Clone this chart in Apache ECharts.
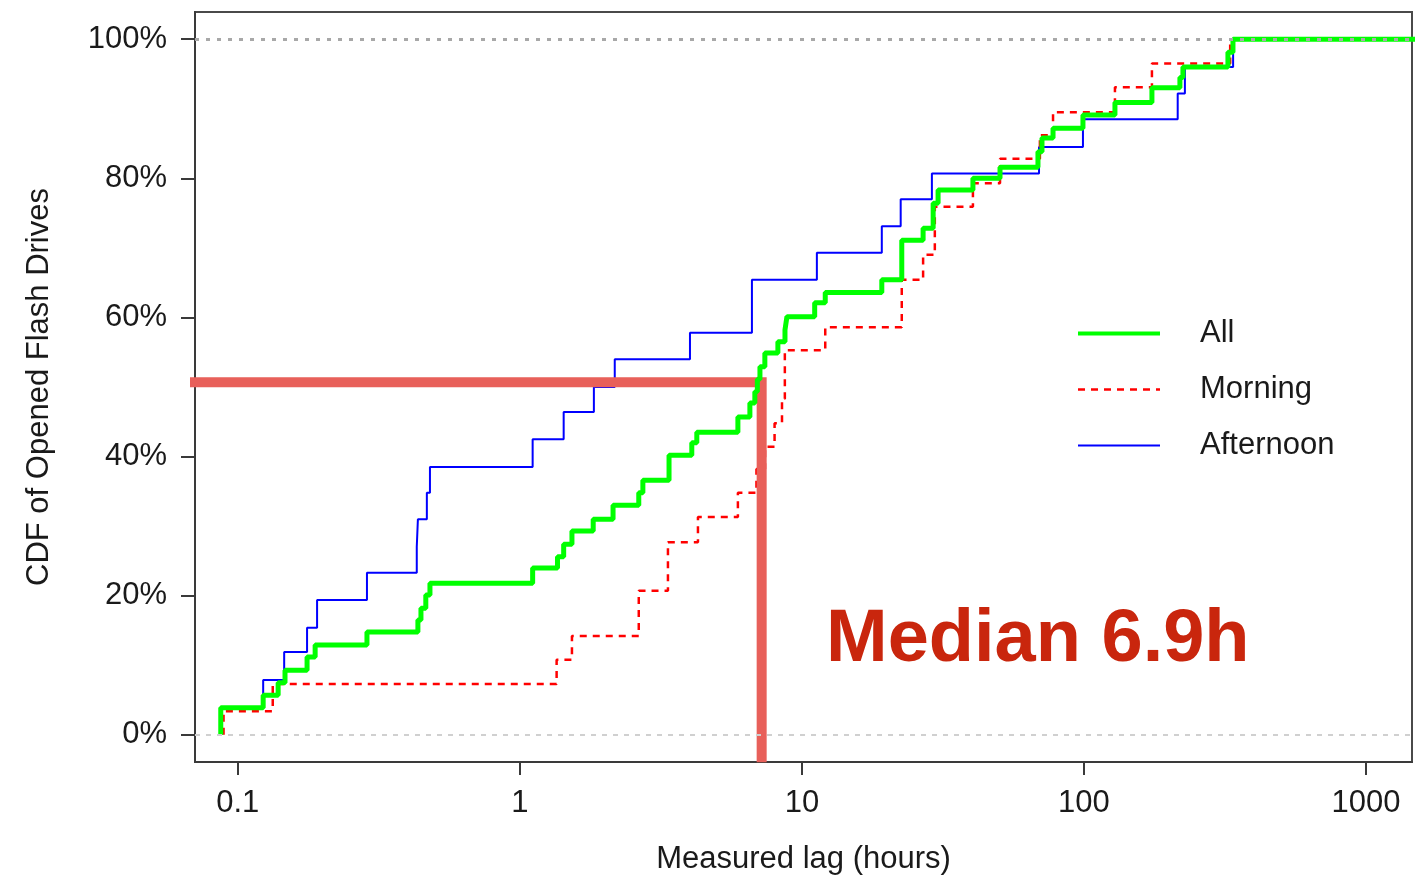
<!DOCTYPE html>
<html>
<head>
<meta charset="utf-8">
<script src="https://cdn.jsdelivr.net/npm/echarts@6/dist/echarts.min.js"></script>
<style>
html, body { margin: 0; padding: 0; background: #fff; }
#cdf { width: 1422px; height: 875px; }
</style>
</head>
<body>
<div id="cdf"></div>
<script>
// [lag in hours, CDF in %] at each step
var allSteps = [
  [0.087, 0], [0.087, 3.9], [0.123, 5.7], [0.139, 7.5], [0.147, 9.3], [0.176, 11.2],
  [0.188, 12.9], [0.287, 14.8], [0.435, 16.5], [0.446, 18.2], [0.464, 20.1], [0.48, 21.8],
  [1.11, 24.0], [1.36, 25.6], [1.43, 27.4], [1.53, 29.3], [1.82, 31.0], [2.14, 33.0],
  [2.64, 34.8], [2.73, 36.6], [3.38, 40.2], [4.07, 42.0], [4.24, 43.5], [5.93, 45.7],
  [6.54, 47.7], [6.81, 49.3], [6.95, 51.1], [7.1, 52.9], [7.39, 54.9], [8.22, 56.5],
  [8.71, 58.2], [8.85, 60.1], [11.1, 62.1], [12.1, 63.6], [19.2, 65.4], [22.6, 71.1],
  [26.9, 72.8], [29.2, 76.4], [30.4, 78.3], [40.4, 80.0], [50.4, 81.6], [68.7, 83.8],
  [71.0, 85.8], [77.7, 87.2], [99.2, 89.1], [128.8, 90.9], [174.2, 93.0], [218.9, 94.5],
  [224.4, 96.0], [324, 98.1], [337.6, 100], [1500, 100]
];
var morningSteps = [
  [0.089, 0], [0.089, 3.4], [0.133, 7.3], [1.35, 10.8], [1.53, 14.2], [2.64, 20.7],
  [3.35, 27.7], [4.28, 31.3], [5.93, 34.8], [6.9, 38.2], [7.4, 41.4], [8.0, 44.8],
  [8.5, 48.3], [8.7, 55.3], [12.1, 58.6], [22.6, 65.4], [26.9, 69.0], [29.6, 75.9],
  [40.4, 79.3], [50.4, 82.8], [69.8, 86.2], [77.7, 89.5], [128.8, 93.1], [174.2, 96.5],
  [330, 100], [1500, 100]
];
var afternoonSteps = [
  [0.087, 0], [0.087, 3.9], [0.123, 7.9], [0.146, 11.9], [0.176, 15.4], [0.191, 19.4],
  [0.287, 23.3], [0.431, 27.0], [0.435, 31.0], [0.468, 34.8], [0.48, 38.5], [1.11, 42.5],
  [1.43, 46.4], [1.83, 50.0], [2.17, 54.0], [4.01, 57.8], [6.65, 65.4], [11.3, 69.3],
  [19.2, 73.1], [22.4, 77.0], [28.9, 80.7], [69.3, 84.5], [99.2, 88.5], [215, 92.2],
  [228, 96.0], [338, 100], [1500, 100]
];

var xTicks = [0.1, 1, 10, 100, 1000];
var yTicks = [0, 20, 40, 60, 80, 100];

// hand-drawn median marker: from left of the axis, across to the median lag, down to the bottom
var medianMark = [[0.0622, 50.7], [7.2, 50.7], [7.2, -3.2]];

var font = "'Liberation Sans', Arial, sans-serif";
var chart = echarts.init(document.getElementById("cdf"));

var option = {
  animation: false,
  backgroundColor: "#fff",
  textStyle: { fontFamily: font },
  grid: {
    left: 195, right: 10, top: 12, bottom: 113,
    outerBoundsMode: "none", containLabel: false,
    show: true, borderColor: "#4a4a4a", borderWidth: 2
  },
  legend: {
    left: 1076, top: 318, orient: "vertical", padding: 0,
    itemWidth: 82, itemHeight: 14, itemGap: 25,
    lineStyle: { width: "inherit" },
    itemStyle: { opacity: 0 },
    textStyle: { fontSize: 31, color: "#1a1a1a", padding: [0, 0, 0, 35], fontFamily: font },
    data: [
      { name: "All", lineStyle: { width: 4 } },
      { name: "Morning" },
      { name: "Afternoon" }
    ]
  },
  xAxis: {
    type: "log", logBase: 10, min: 0.0705, max: 1456,
    name: "Measured lag (hours)", nameLocation: "middle", nameGap: 82,
    nameTextStyle: { fontSize: 31, color: "#1a1a1a", fontFamily: font },
    axisLine: { show: true, onZero: false, lineStyle: { color: "#3a3a3a", width: 2 } },
    axisTick: { show: true, customValues: xTicks, length: 13, lineStyle: { color: "#3a3a3a", width: 2 } },
    axisLabel: {
      customValues: xTicks, margin: 26, fontSize: 31, color: "#1a1a1a",
      formatter: function (v) { return String(v); }
    },
    splitLine: { show: false },
    minorTick: { show: false }
  },
  yAxis: {
    type: "value", min: -3.9, max: 103.9,
    name: "CDF of Opened Flash Drives", nameLocation: "middle", nameGap: 140,
    nameTextStyle: { fontSize: 31, color: "#1a1a1a", fontFamily: font },
    axisLine: { show: true, lineStyle: { color: "#3a3a3a", width: 2 } },
    axisTick: { show: true, customValues: yTicks, length: 14, lineStyle: { color: "#3a3a3a", width: 2 } },
    axisLabel: {
      customValues: yTicks, margin: 28, fontSize: 31, color: "#1a1a1a",
      formatter: "{value}%"
    },
    splitLine: { show: false }
  },
  graphic: [
    {
      type: "text", left: 826, top: 604, z: 100,
      style: {
        text: "Median 6.9h", fill: "#c9260d",
        font: "bold 74px " + font
      }
    }
  ],
  series: [
    {
      name: "Afternoon", type: "line", step: "end", symbol: "none", z: 2,
      data: afternoonSteps,
      lineStyle: { color: "#0000ff", width: 2 },
      itemStyle: { color: "#0000ff" },
      markLine: {
        silent: true, symbol: ["none", "none"], label: { show: false },
        data: [
          { yAxis: 100, lineStyle: { color: "#a8a8a8", width: 3, type: [4, 7] } },
          { yAxis: 0, lineStyle: { color: "#d0d0d0", width: 2, type: [5, 6] } }
        ]
      }
    },
    {
      name: "Morning", type: "line", step: "end", symbol: "none", z: 2,
      data: morningSteps,
      lineStyle: { color: "#ff0000", width: 2.5, type: [7, 6] },
      itemStyle: { color: "#ff0000" }
    },
    {
      name: "median", type: "line", symbol: "none", z: 3, clip: false, silent: true,
      data: medianMark,
      lineStyle: { color: "#e8605a", width: 10, cap: "square", join: "miter" },
      itemStyle: { color: "#e8605a" }
    },
    {
      name: "All", type: "line", step: "end", symbol: "none", z: 4,
      data: allSteps,
      lineStyle: { color: "#00ff00", width: 5 },
      itemStyle: { color: "#00ff00" }
    }
  ]
};

chart.setOption(option);
</script>
</body>
</html>
